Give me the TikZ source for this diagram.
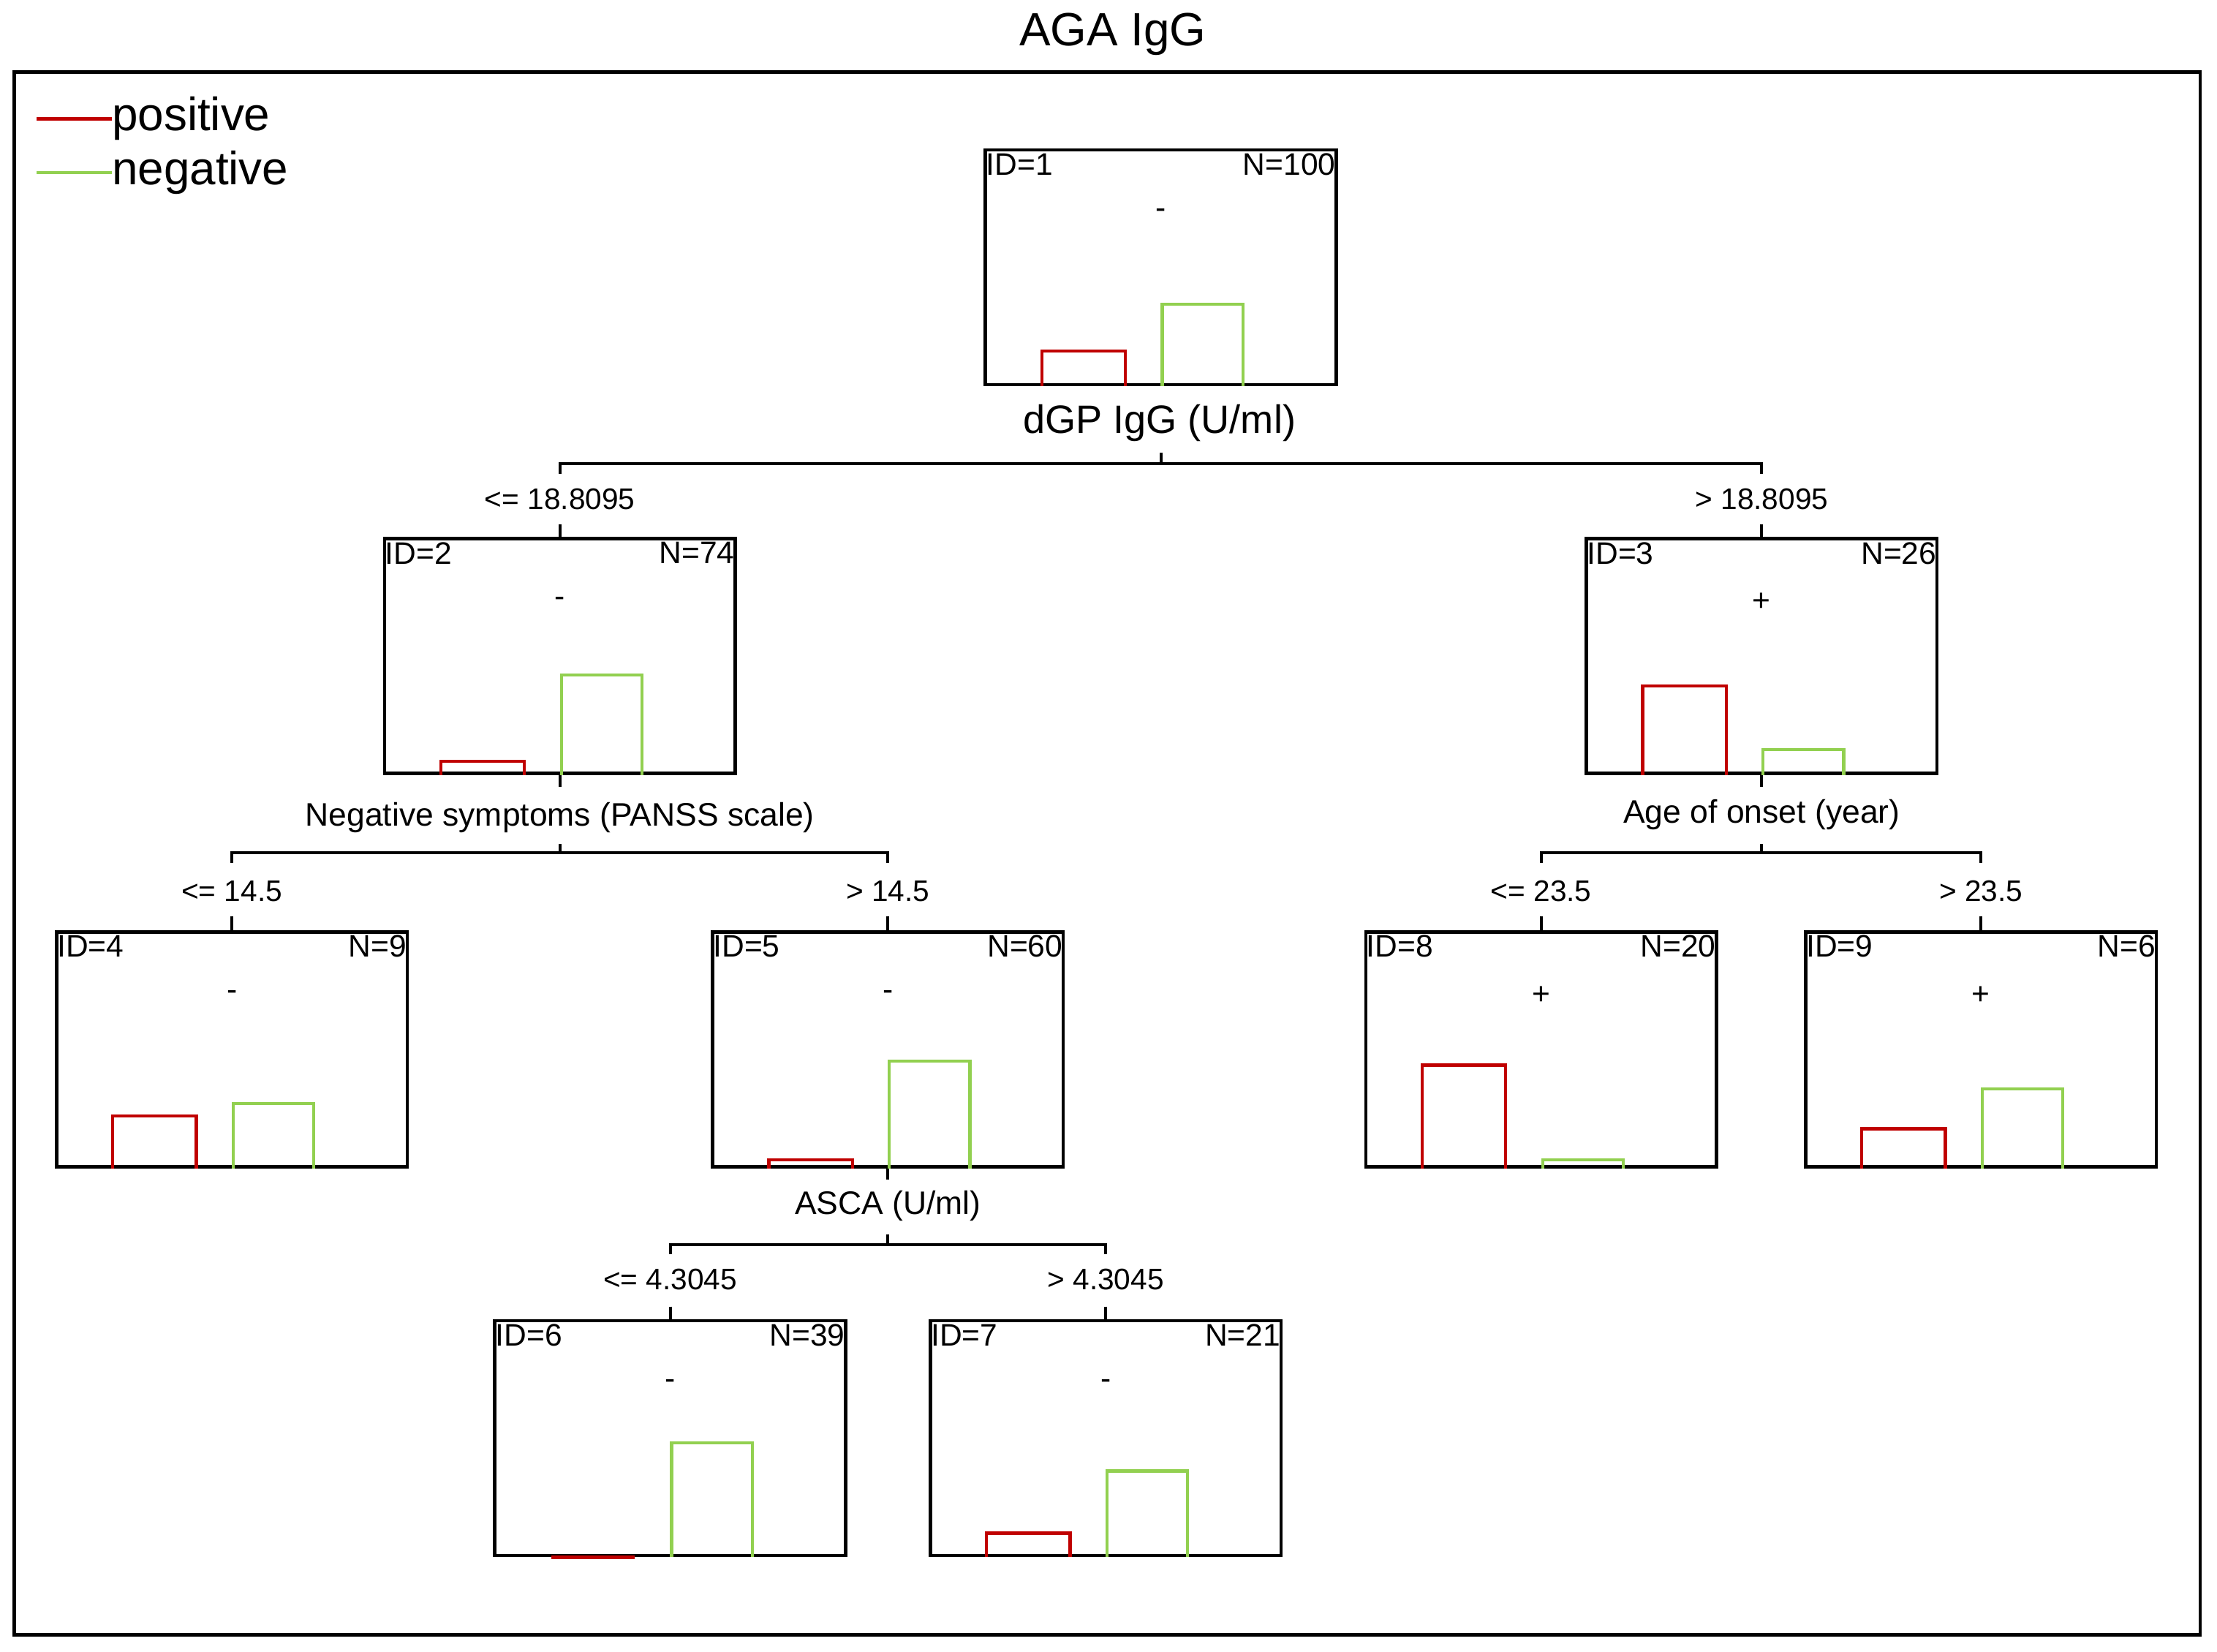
\documentclass[tikz,border=0pt]{standalone}
\usepackage{fontspec}
\setmainfont{Liberation Sans}
\usetikzlibrary{calc}
\definecolor{posred}{HTML}{C00000}
\definecolor{neggreen}{HTML}{92D050}

\begin{document}
\begin{tikzpicture}[x=1pt,y=-1pt,line join=miter,
	box/.style={draw,line width=2.4pt,minimum width=248pt,minimum height=166pt,inner sep=0pt},
	tag/.style={font=\fontsize{22}{24}\selectfont,inner sep=1.5pt},
	split/.style={font=\fontsize{23}{25}\selectfont,inner sep=0pt},
	cond/.style={font=\fontsize{21}{23}\selectfont,inner sep=0pt},
	big/.style={font=\fontsize{33}{36}\selectfont,inner sep=0pt},
	link/.style={line width=2pt},
	posbar/.style={draw=posred,line width=2.2pt},
	negbar/.style={draw=neggreen,line width=2.2pt}]
	\useasboundingbox (0,0) rectangle (1568,1168);
	% title, frame and legend
	\node[big] (title) at (787,24) {AGA IgG};
	\draw[line width=2.4pt] (10,51) rectangle (1556,1156);
	\node[big,anchor=west] (lpos) at (79,84) {positive};
	\node[big,anchor=west] (lneg) at (79,122) {negative};
	\draw[posred,line width=2.2pt] (lpos.west) -- ++(-53,0);
	\draw[neggreen,line width=2.2pt] (lneg.west) -- ++(-53,0);
	% tree nodes
	\foreach \n/\x/\y/\N/\cls in {1/821/189/100/-, 2/396/464/74/-, 3/1246/464/26/+, 4/164/742/9/-,
		5/628/742/60/-, 6/474/1017/39/-, 7/782/1017/21/-, 8/1090/742/20/+, 9/1401/742/6/+}{
		\node[box] (n\n) at (\x,\y) {};
		\node[tag,anchor=north west,yshift=-2pt] (id\n) at (n\n.north west) {ID=\n};
		\node[tag,anchor=north east,yshift=-2pt] (cnt\n) at (n\n.north east) {N=\N};
		\node[tag] (cls\n) at ($(n\n.north)+(0,46)$) {\cls};
	}
	% bars
	\foreach \n/\r/\g in {1/25/58, 2/10/71, 3/63/18, 4/37/46, 5/6/76, 6/0/81, 7/17/61, 8/73/6, 9/28/56}{
		\draw[posbar] ($(n\n.south west)+(41,0)$) -- ++(0,-\r) -- ++(59,0) -- ++(0,\r);
		\draw[negbar] ($(n\n.south)+(1,0)$) -- ++(0,-\g) -- ++(57,0) -- ++(0,\g);
	}
	% split of node 1
	\node[font=\fontsize{28}{30}\selectfont,inner sep=0pt] (s1) at (820,299) {dGP IgG (U/ml)};
	\draw[link] (n1.south |- 0,320) -- (n1.south |- 0,328);
	\draw[link] (n2.north |- 0,335) -- (n2.north |- 0,328) -- (n3.north |- 0,328) -- (n3.north |- 0,335);
	\node[cond] (c2) at (n2.north |- 0,353) {<= 18.8095};
	\node[cond] (c3) at (n3.north |- 0,353) {> 18.8095};
	\draw[link] (c2.south |- 0,371) -- (n2.north);
	\draw[link] (c3.south |- 0,371) -- (n3.north);
	% split of node 2
	\draw[link] (n2.south) -- ++(0,8);
	\node[split] (s2) at (n2.south |- 0,578) {Negative symptoms (PANSS scale)};
	\draw[link] (n2.south |- 0,597) -- (n2.south |- 0,603);
	\draw[link] (n4.north |- 0,610) -- (n4.north |- 0,603) -- (n5.north |- 0,603) -- (n5.north |- 0,610);
	\node[cond] (c4) at (n4.north |- 0,630) {<= 14.5};
	\node[cond] (c5) at (n5.north |- 0,630) {> 14.5};
	\draw[link] (c4.south |- 0,648) -- (n4.north);
	\draw[link] (c5.south |- 0,648) -- (n5.north);
	% split of node 3
	\draw[link] (n3.south) -- ++(0,8);
	\node[split] (s3) at (n3.south |- 0,576) {Age of onset (year)};
	\draw[link] (n3.south |- 0,597) -- (n3.south |- 0,603);
	\draw[link] (n8.north |- 0,610) -- (n8.north |- 0,603) -- (n9.north |- 0,603) -- (n9.north |- 0,610);
	\node[cond] (c8) at (n8.north |- 0,630) {<= 23.5};
	\node[cond] (c9) at (n9.north |- 0,630) {> 23.5};
	\draw[link] (c8.south |- 0,648) -- (n8.north);
	\draw[link] (c9.south |- 0,648) -- (n9.north);
	% split of node 5
	\draw[link] (n5.south) -- ++(0,8);
	\node[split] (s5) at (n5.south |- 0,853) {ASCA (U/ml)};
	\draw[link] (n5.south |- 0,873) -- (n5.south |- 0,880);
	\draw[link] (n6.north |- 0,887) -- (n6.north |- 0,880) -- (n7.north |- 0,880) -- (n7.north |- 0,887);
	\node[cond] (c6) at (n6.north |- 0,905) {<= 4.3045};
	\node[cond] (c7) at (n7.north |- 0,905) {> 4.3045};
	\draw[link] (c6.south |- 0,924) -- (n6.north);
	\draw[link] (c7.south |- 0,924) -- (n7.north);
\end{tikzpicture}
\end{document}
